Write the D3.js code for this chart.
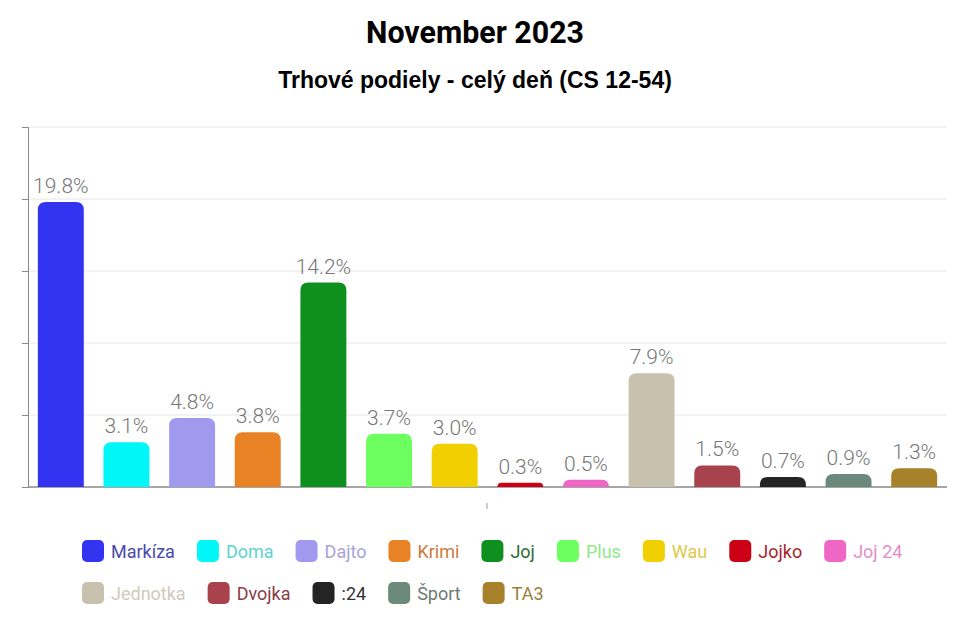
<!DOCTYPE html>
<html><head><meta charset="utf-8">
<script src="https://cdn.jsdelivr.net/npm/d3@7"></script>
<style>body{margin:0;background:#fff}</style></head>
<body><svg id="c" width="959" height="620"></svg>
<script>
const categories=["Markíza","Doma","Dajto","Krimi","Joj","Plus","Wau","Jojko","Joj 24","Jednotka","Dvojka",":24","Šport","TA3"];
const values=[19.8,3.1,4.8,3.8,14.2,3.7,3.0,0.3,0.5,7.9,1.5,0.7,0.9,1.3];
const colors=["#3333f2","#00f7f7","#a199ee","#e88224","#0e8f1e","#6dff60","#f2cf00","#cc0015","#ef66c7","#c8c1ae","#a8434e","#242424","#6a887c","#a8822a"];
const textColors=["#4a4aa8","#5cd3d3","#a9a3d9","#cc7a3a","#2e6b35","#8fe888","#e0c84a","#a8222f","#e08ec8","#cfcabd","#8a3c46","#333","#6b7a74","#9a7f3a"];
const yTicks=[0,5,10,15,20,25];
const svg=d3.select("#c");
const FN='Roboto,sans-serif';
const x=d3.scaleBand().domain(categories).range([28,947]).paddingInner(0.3).paddingOuter(0.15);
const y=d3.scaleLinear().domain([0,25]).range([487,127]);
svg.append("text").attr("x",475).attr("y",43).attr("text-anchor","middle").attr("font-family",FN).attr("font-weight","bold").attr("font-size",31).attr("textLength",218).attr("lengthAdjust","spacingAndGlyphs").text("November 2023");
svg.append("text").attr("x",475).attr("y",88).attr("text-anchor","middle").attr("font-family","Liberation Sans,Arial,sans-serif").attr("font-weight","bold").attr("font-size",23).text("Trhové podiely - celý deň (CS 12-54)");
svg.append("g").selectAll("line").data(yTicks.slice(1)).join("line").attr("x1",28).attr("x2",947).attr("y1",d=>y(d)).attr("y2",d=>y(d)).attr("stroke","#e6e6e6");
svg.append("g").attr("transform","translate(28,0)").call(d3.axisLeft(y).tickValues(yTicks).tickSize(6).tickFormat("")).call(g=>g.selectAll("line,path").attr("stroke","#888"));
svg.append("line").attr("x1",28).attr("x2",947).attr("y1",487).attr("y2",487).attr("stroke","#888").attr("stroke-width",1.5);
svg.append("line").attr("x1",487).attr("x2",487).attr("y1",503).attr("y2",509).attr("stroke","#999");
const r=8;
svg.append("g").selectAll("path").data(values).join("path").attr("fill",(d,i)=>colors[i]).attr("d",(d,i)=>{
  const x0=x(categories[i]),w=x.bandwidth(),t=y(d),b=y(0),rr=Math.min(r,(b-t));
  return `M${x0},${b}V${t+rr}Q${x0},${t} ${x0+rr},${t}H${x0+w-rr}Q${x0+w},${t} ${x0+w},${t+rr}V${b}Z`;});
svg.append("g").selectAll("text").data(values).join("text").attr("x",(d,i)=>x(categories[i])+x.bandwidth()/2).attr("y",d=>y(d)-9).attr("text-anchor","middle").attr("font-family",FN).attr("font-size",21).attr("font-weight",300).attr("fill","#777").text(d=>d.toFixed(1)+"%");
const rows=[[0,9,82,551],[9,14,82,593]];
rows.forEach(([a,b,sx,cy])=>{let cx=sx;for(let i=a;i<b;i++){
  svg.append("rect").attr("x",cx).attr("y",cy-11).attr("width",22).attr("height",22).attr("rx",5).attr("fill",colors[i]);
  const t=svg.append("text").attr("x",cx+29).attr("y",cy+7).attr("font-family",FN).attr("font-size",18).attr("fill",textColors[i]).text(categories[i]);
  cx+=29+t.node().getComputedTextLength()+22;}});
</script></body></html>
